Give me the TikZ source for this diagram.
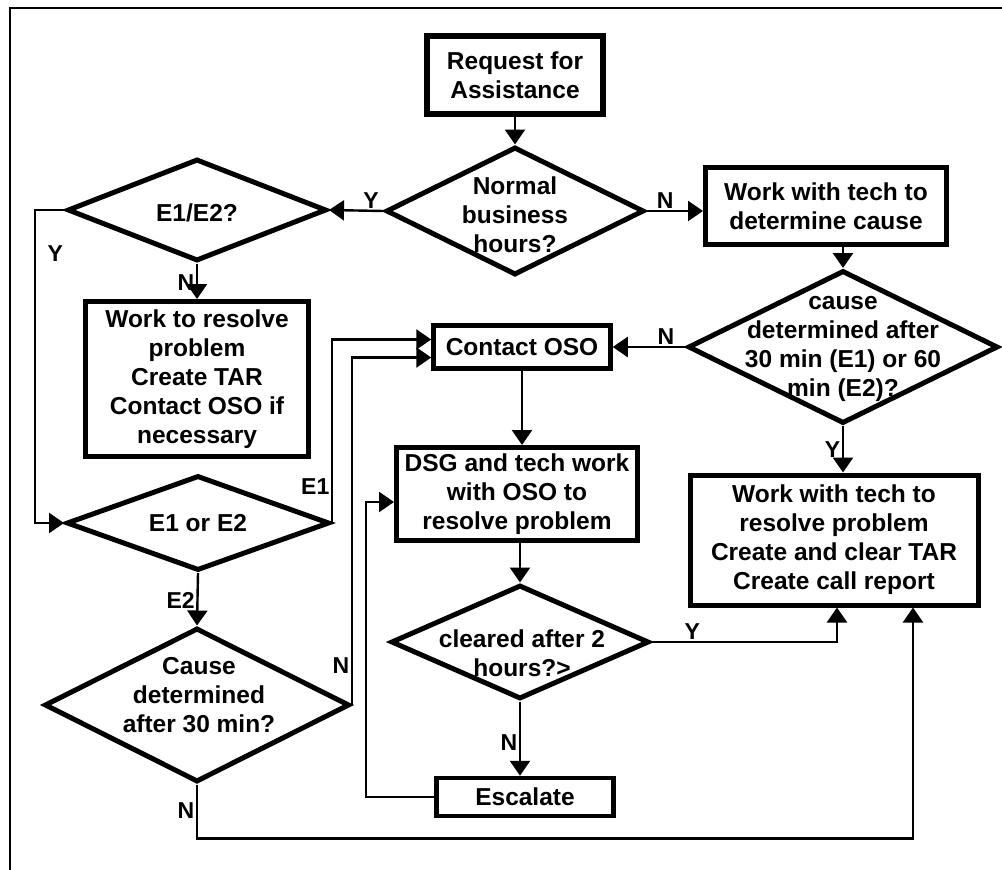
\documentclass[tikz,border=0pt]{standalone}
\usepackage{fontspec}
\setmainfont{Liberation Sans}
\usetikzlibrary{shapes.geometric,arrows.meta,calc}
\begin{document}
\begin{tikzpicture}[x=1pt,y=-1pt,
  font=\fontsize{24.5}{29}\selectfont\bfseries,
  box/.style={draw,line width=5pt,rectangle,align=center,inner sep=0pt},
  dia/.style={draw,line width=5pt,diamond,inner sep=0pt},
  dtext/.style={align=center,inner sep=0pt},
  flow/.style={line width=2.4pt,-{Triangle[length=15pt,width=20pt]}},
  lbl/.style={font=\fontsize{23}{26}\selectfont\bfseries,inner sep=1.5pt},
]
\useasboundingbox (0,0) rectangle (1002,870);

% outer frame
\draw[line width=2.5pt] (10,870) -- (10,8) -- (1002,8);

% process boxes
\node[box,line width=6pt,minimum width=176pt,minimum height=78pt] (req) at (515,75) {Request for\\Assistance};
\node[box,minimum width=241pt,minimum height=77pt] (wdet) at (826,206) {Work with tech to\\determine cause};
\node[box,line width=4.5pt,minimum width=177pt,minimum height=43pt] (contact) at (522,347) {Contact OSO};
\node[box,minimum width=223pt,minimum height=155pt] (wres) at (197,379) {Work to resolve\\problem\\Create TAR\\Contact OSO if\\necessary};
\node[box,minimum width=241pt,minimum height=93pt] (dsg) at (517,494) {DSG and tech work\\with OSO to\\resolve problem};
\node[box,minimum width=288pt,minimum height=130pt] (wtr) at (834,540) {Work with tech to\\resolve problem\\Create and clear TAR\\Create call report};
\node[box,line width=4.5pt,minimum width=177pt,minimum height=38pt] (esc) at (525,797) {Escalate};

% decisions
\node[dia,minimum width=258pt,minimum height=128pt] (normal) at (515,211) {};
\node[dtext] (normalT) at (515,215) {Normal\\business\\hours?};
\node[dia,minimum width=259pt,minimum height=102pt] (e12) at (197,210) {};
\node[dtext] (e12T) at (197,213) {E1/E2?};
\node[dia,minimum width=310pt,minimum height=153pt] (cause) at (843,347) {};
\node[dtext] (causeT) at (843,349) {cause\\determined after\\30 min (E1) or 60\\min (E2)?};
\node[dia,minimum width=263pt,minimum height=95pt] (e1e2) at (198,523) {};
\node[dtext] (e1e2T) at (198,523) {E1 or E2};
\node[dia,minimum width=258pt,minimum height=114pt] (cleared) at (520,642) {};
\node[dtext] (clearedT) at (522,653) {cleared after 2\\hours?>};
\node[dia,minimum width=305pt,minimum height=154pt] (cause30) at (197,705) {};
\node[dtext] (cause30T) at (199,695) {Cause\\determined\\after 30 min?};

\coordinate (ybend) at (35,210);

% connectors
\draw[flow] (req.south) -- (normal.north);
\draw[flow] (normal.west) -- node[lbl,above,pos=0.23]{Y} (e12.east);
\draw[flow] (normal.east) -- node[lbl,above,pos=0.33]{N} (normal.east -| wdet.west);
\draw[flow] (cause.north |- wdet.south) -- (cause.north);
\draw[flow] (cause.west) -- node[lbl,above,pos=0.27]{N} (cause.west -| contact.east);
\draw[flow] (cause.south) -- node[lbl,left,pos=0.5]{Y} (cause.south |- wtr.north);
\draw[flow] (e12.south) -- node[lbl,left,pos=0.55]{N} (e12.south |- wres.north);
\draw[flow] (e12.west) -- (ybend) |- node[lbl,right,pos=0.07,xshift=10pt]{Y} (e1e2.west);
\draw[flow] (e1e2.east) |- node[lbl,left,pos=0.1]{E1} ([yshift=7.5pt]contact.west);
\draw[flow] (e1e2.south) -- node[lbl,left,pos=0.52]{E2} (cause30.north);
\draw[flow] (cause30.east) |- node[lbl,left,pos=0.056]{N} ([yshift=-10.5pt]contact.west);
\draw[flow] (contact.south) -- (contact.south |- dsg.north);
\draw[flow] (cleared.north |- dsg.south) -- (cleared.north);
\draw[flow] (cleared.south) -- node[lbl,left,pos=0.55]{N} (cleared.south |- esc.north);
\draw[flow] (esc.west) -- ++(-68,0) |- ([yshift=-8pt]dsg.west);
\draw[flow] (cleared.east) -| node[lbl,above,pos=0.11]{Y} ([xshift=3pt]wtr.south);
\draw[flow] (cause30.south) -- node[lbl,left,pos=0.48]{N} ++(0,54) -| ([xshift=79pt]wtr.south);
\end{tikzpicture}
\end{document}
